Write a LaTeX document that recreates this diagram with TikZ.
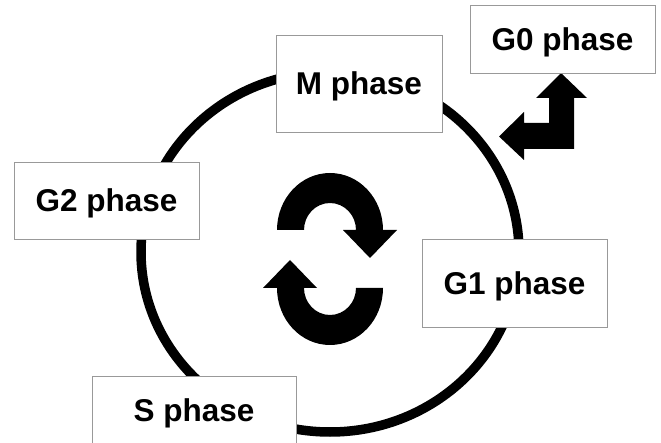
\documentclass[tikz,border=0pt]{standalone}
\usepackage{fontspec}
\setmainfont{Liberation Sans}
\usepackage{tikz}
\usetikzlibrary{arrows.meta, calc}

\tikzset{
phasebox/.style={draw=gray!80, line width=0.8pt, fill=white, inner sep=0pt,
  font=\bfseries\fontsize{31.5}{32}\selectfont, text depth=0pt},
blackshape/.style={fill=black, draw=none}
}

\begin{document}
\begin{tikzpicture}[x=1pt, y=-1pt]
\useasboundingbox (0,0) rectangle (661,443);
\draw[line width=9.5pt] (330,252) ellipse[x radius=189pt, y radius=180pt];
\fill[blackshape] (277,230) arc[start angle=180, end angle=0, x radius=53pt, y radius=57pt]
  -- (397,230) -- (370,258) -- (343,230) -- (356,230)
  arc[start angle=0, end angle=180, x radius=26pt, y radius=27pt] -- cycle;
\fill[blackshape] (383,288) arc[start angle=0, end angle=-180, x radius=53pt, y radius=57pt]
  -- (263,288) -- (290,260) -- (317,288) -- (304,288)
  arc[start angle=180, end angle=360, x radius=26pt, y radius=27pt] -- cycle;
\fill[blackshape] (561,73) -- (587,98) -- (574,98) -- (574,149) -- (524,149) -- (524,160)
  -- (499,136.5) -- (524,112) -- (524,123) -- (549,123) -- (549,98) -- (536,98) -- cycle;
\node[phasebox, minimum width=166pt, minimum height=97pt] (mphase) at (359,83.5) {M phase};
\node[phasebox, minimum width=185pt, minimum height=68pt] (gzero) at (562.5,39) {G0 phase};
\node[phasebox, minimum width=185pt, minimum height=77pt] (gtwo) at (106.5,200.5) {G2 phase};
\node[phasebox, minimum width=185pt, minimum height=88pt] (gone) at (514.5,283) {G1 phase};
\node[phasebox, minimum width=204pt, minimum height=68pt] (sphase) at (194,410) {S phase};
\end{tikzpicture}
\end{document}
